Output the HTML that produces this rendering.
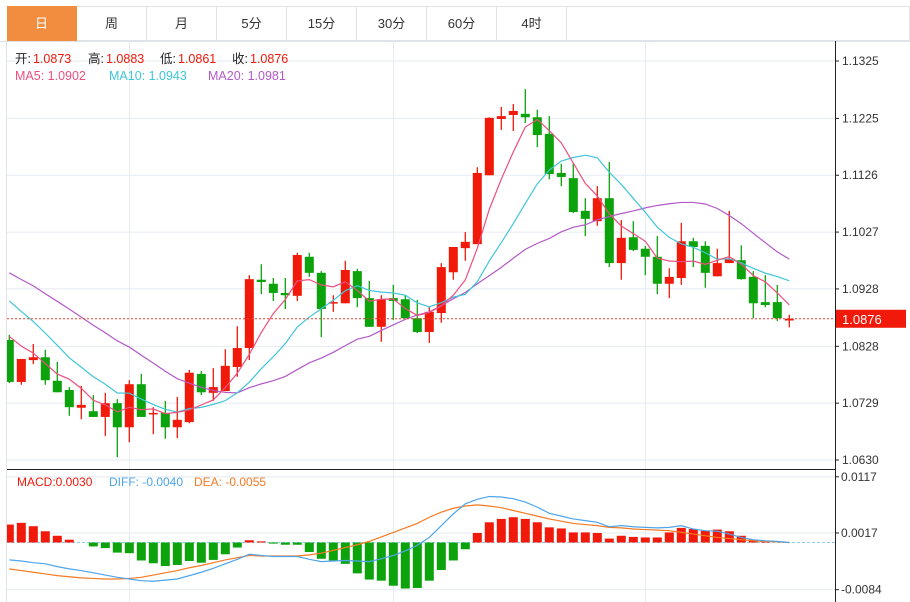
<!DOCTYPE html>
<html><head><meta charset="utf-8">
<style>
body{margin:0;background:#fff;font-family:"Liberation Sans","Noto Sans CJK SC",sans-serif;}
#wrap{position:relative;width:910px;height:602px;overflow:hidden;background:#fff;}
.tab{position:absolute;top:6px;height:35px;width:70px;border:1px solid #dfe3e8;border-left:none;box-sizing:border-box;text-align:center;line-height:34px;font-size:13px;color:#333;}
svg{position:absolute;left:0;top:0;}
</style></head><body>
<div id="wrap">
<div class="tab" style="left:7px;background:#f28c3f;color:#fff;border-color:#f28c3f">日</div>
<div class="tab" style="left:77px">周</div>
<div class="tab" style="left:147px">月</div>
<div class="tab" style="left:217px">5分</div>
<div class="tab" style="left:287px">15分</div>
<div class="tab" style="left:357px">30分</div>
<div class="tab" style="left:427px">60分</div>
<div class="tab" style="left:497px">4时</div>
<div class="tab" style="left:567px;width:343px"></div>
<svg id="chart" width="910" height="602"></svg>
</div>
<script>
const opens=[1.0839,1.0766,1.0804,1.0809,1.0768,1.0752,1.0721,1.0715,1.0705,1.0729,1.0687,1.0762,1.0710,1.0712,1.0687,1.0696,1.0780,1.0747,1.0750,1.0792,1.0825,1.0944,1.0937,1.0921,1.0916,1.0984,1.0956,1.0903,1.0903,1.0959,1.0912,1.0862,1.0912,1.0910,1.0877,1.0853,1.0886,1.0957,1.0999,1.1006,1.1126,1.1224,1.1231,1.1233,1.1227,1.1198,1.1130,1.1121,1.1064,1.1046,1.1086,1.0973,1.1018,1.0998,1.0984,1.0937,1.0947,1.1011,1.1003,1.0950,1.0973,1.0978,1.0949,1.0905,1.0905,1.0873];
const highs=[1.0848,1.0806,1.0832,1.0822,1.0801,1.0757,1.0759,1.0743,1.0747,1.0736,1.0769,1.0780,1.0722,1.0733,1.0740,1.0787,1.0785,1.0790,1.0823,1.0863,1.0952,1.0971,1.0947,1.0947,1.0991,1.0991,1.0959,1.0917,1.0977,1.0963,1.0942,1.0917,1.0935,1.0917,1.0909,1.0896,1.0973,1.1001,1.1027,1.1140,1.1227,1.1245,1.1250,1.1276,1.1240,1.1229,1.1146,1.1147,1.1086,1.1107,1.1149,1.1048,1.1046,1.1003,1.1020,1.0964,1.1043,1.1017,1.1011,1.0998,1.1064,1.1004,1.0959,1.0952,1.0935,1.0883];
const lows=[1.0764,1.0761,1.0797,1.0761,1.0748,1.0707,1.0701,1.0705,1.0672,1.0635,1.0661,1.0705,1.0675,1.0667,1.0668,1.0694,1.0743,1.0733,1.0750,1.0775,1.0804,1.0919,1.0907,1.0893,1.0907,1.0949,1.0844,1.0888,1.0903,1.0896,1.0862,1.0836,1.0874,1.0877,1.0851,1.0834,1.0869,1.0944,1.0977,1.1006,1.1126,1.1205,1.1203,1.1217,1.1175,1.1119,1.1107,1.1060,1.1020,1.1038,1.0966,1.0944,1.0994,1.0952,1.0919,1.0912,1.0935,1.0966,1.0930,1.0950,1.0973,1.0944,1.0877,1.0896,1.0872,1.0861];
const closes=[1.0766,1.0806,1.0809,1.0769,1.0748,1.0722,1.0726,1.0705,1.0729,1.0687,1.0762,1.0705,1.0712,1.0687,1.0700,1.0782,1.0748,1.0757,1.0794,1.0825,1.0945,1.0940,1.0921,1.0917,1.0987,1.0956,1.0893,1.0905,1.0961,1.0912,1.0862,1.0910,1.0907,1.0877,1.0853,1.0888,1.0966,1.1001,1.1010,1.1130,1.1226,1.1229,1.1238,1.1227,1.1196,1.1128,1.1123,1.1062,1.1050,1.1086,1.0973,1.1017,1.0996,1.0984,1.0937,1.0949,1.1011,1.1001,1.0956,1.0973,1.0980,1.0945,1.0903,1.0900,1.0877,1.0876];
const prevCloses=[1.1040,1.1030,1.1045,1.1010,1.0995,1.1005,1.0985,1.0990,1.0970,1.0980,1.0990,1.0985,1.0970,1.0960,1.0940,1.0890,1.0870,1.0860,1.0840];
const macdHist=[0.0032,0.0035,0.0029,0.0020,0.0012,0.0005,0.0000,-0.0007,-0.0010,-0.0018,-0.0019,-0.0032,-0.0037,-0.0042,-0.0040,-0.0033,-0.0036,-0.0031,-0.0021,-0.0009,0.0004,0.0002,-0.0002,-0.0004,-0.0004,-0.0017,-0.0029,-0.0032,-0.0038,-0.0055,-0.0066,-0.0068,-0.0077,-0.0082,-0.0081,-0.0068,-0.0049,-0.0032,-0.0012,0.0017,0.0036,0.0042,0.0045,0.0042,0.0036,0.0027,0.0025,0.0018,0.0018,0.0017,0.0007,0.0012,0.0010,0.0009,0.0009,0.0018,0.0026,0.0024,0.0021,0.0023,0.0020,0.0012,0.0005,0.0003,0.0000,0.0000];
const diffVals=[-0.0031,-0.0033,-0.0036,-0.0038,-0.0043,-0.0047,-0.0050,-0.0054,-0.0058,-0.0062,-0.0065,-0.0068,-0.0069,-0.0067,-0.0065,-0.0059,-0.0053,-0.0046,-0.0038,-0.0030,-0.0021,-0.0023,-0.0025,-0.0025,-0.0025,-0.0030,-0.0034,-0.0033,-0.0032,-0.0033,-0.0034,-0.0029,-0.0023,-0.0015,-0.0005,0.0009,0.0030,0.0051,0.0069,0.0077,0.0082,0.0081,0.0078,0.0072,0.0063,0.0052,0.0047,0.0042,0.0039,0.0036,0.0028,0.0030,0.0028,0.0027,0.0026,0.0027,0.0030,0.0024,0.0021,0.0020,0.0015,0.0009,0.0005,0.0003,0.0002,0.0000];
const deaVals=[-0.0047,-0.0050,-0.0053,-0.0056,-0.0059,-0.0061,-0.0063,-0.0064,-0.0065,-0.0065,-0.0064,-0.0062,-0.0058,-0.0054,-0.0050,-0.0045,-0.0041,-0.0036,-0.0031,-0.0027,-0.0023,-0.0024,-0.0024,-0.0024,-0.0024,-0.0022,-0.0019,-0.0014,-0.0009,-0.0004,0.0002,0.0010,0.0018,0.0026,0.0034,0.0045,0.0054,0.0061,0.0065,0.0067,0.0065,0.0062,0.0057,0.0052,0.0047,0.0042,0.0038,0.0034,0.0032,0.0030,0.0027,0.0026,0.0024,0.0023,0.0022,0.0021,0.0018,0.0015,0.0012,0.0009,0.0007,0.0005,0.0003,0.0002,0.0001,0.0000];
const priceTicks=[1.1325,1.1225,1.1126,1.1027,1.0928,1.0828,1.0729,1.0630];
const priceTickLabels=["1.1325","1.1225","1.1126","1.1027","1.0928","1.0828","1.0729","1.0630"];
const macdTicks=[0.0117,0.0017,-0.0084];
const macdTickLabels=["0.0117","0.0017","-0.0084"];
const lastPrice=1.0876;

const NS="http://www.w3.org/2000/svg";
const svg=document.getElementById('chart');
const RED="#f0190a",GREEN="#0ca20c";
const L=7,R=835;
function yP(p){return 61+(1.1325-p)*5741;}
function yM(v){return 542.5-v*5614;}
function xC(i){return 9.3+12*i;}
function mk(tag,attrs,parent){const e=document.createElementNS(NS,tag);for(const k in attrs)e.setAttribute(k,attrs[k]);(parent||svg).appendChild(e);return e;}

const defs=mk('defs',{});
const cp=mk('clipPath',{id:'plotclip'},defs);mk('rect',{x:L,y:41,width:R-L,height:428},cp);
const cp2=mk('clipPath',{id:'macdclip'},defs);mk('rect',{x:L,y:470,width:R-L,height:132},cp2);

// frame & grid
const grid=mk('g',{});


mk('line',{x1:0,y1:41.5,x2:910,y2:41.5,stroke:'#dfe3e8'},grid);
mk('line',{x1:L-0.5,y1:41,x2:L-0.5,y2:602,stroke:'#dfe3e8'},grid);
priceTicks.forEach(t=>{mk('line',{x1:L,x2:R,y1:yP(t),y2:yP(t),stroke:'#e4ebf2'},grid);});
macdTicks.forEach(t=>{mk('line',{x1:L,x2:R,y1:yM(t),y2:yM(t),stroke:'#e4ebf2'},grid);});
[129.5,393.5,645.5].forEach(x=>{mk('line',{x1:x,x2:x,y1:41,y2:602,stroke:'#e4ebf2'},grid);});
mk('line',{x1:L,x2:R,y1:469.5,y2:469.5,stroke:'#222'},grid);
mk('line',{x1:R+0.5,x2:R+0.5,y1:41,y2:602,stroke:'#222'},grid);

// price axis
priceTicks.forEach((t,i)=>{
  mk('line',{x1:R,x2:R+4,y1:yP(t),y2:yP(t),stroke:'#222'});
  const tx=mk('text',{x:842,y:yP(t)+4,'font-size':12,fill:'#333'});
  tx.textContent=priceTickLabels[i];
  
  
});
macdTicks.forEach((t,i)=>{
  mk('line',{x1:R,x2:R+4,y1:yM(t),y2:yM(t),stroke:'#222'});
  const tx=mk('text',{x:841,y:yM(t)+4,'font-size':12,fill:'#333'});
  tx.textContent=macdTickLabels[i];
  
  
});

// MA lines
const allC=prevCloses.concat(closes);
function ma(n){return closes.map((c,i)=>{const j=i+prevCloses.length;let s=0;for(let k=j-n+1;k<=j;k++)s+=allC[k];return s/n;});}
const plot=mk('g',{'clip-path':'url(#plotclip)'});
function line(vals,yf,color,name,parent){
  const p=mk('polyline',{points:vals.map((v,i)=>xC(i)+','+yf(v)).join(' '),fill:'none',stroke:color,'stroke-width':1.2},parent);
  
  
}
// candles
closes.forEach((c,i)=>{
  const o=opens[i],up=c>=o,col=up?RED:GREEN,x=xC(i);
  const g=mk('g',{},plot);
  
  
  mk('line',{x1:x,x2:x,y1:yP(highs[i]),y2:yP(lows[i]),stroke:col,'stroke-width':1.3},g);
  const t=yP(Math.max(o,c)),b=yP(Math.min(o,c));
  mk('rect',{x:x-4.5,y:t,width:9,height:Math.max(b-t,1.5),fill:col},g);
});
line(ma(20),yP,'#b25ac8','ma20-line',plot);
line(ma(10),yP,'#3fc6d9','ma10-line',plot);
line(ma(5),yP,'#ec4f7d','ma5-line',plot);
const ll=mk('line',{x1:L,x2:R,y1:yP(lastPrice),y2:yP(lastPrice),stroke:'#f03c2c','stroke-dasharray':'2,2'});


const tag=mk('g',{});


mk('rect',{x:R+1,y:yP(lastPrice)-9,width:70,height:18,fill:RED},tag);
const tt=mk('text',{x:842,y:yP(lastPrice)+5,'font-size':13,fill:'#fff'},tag);tt.textContent=lastPrice.toFixed(4);

// MACD
const mg=mk('g',{'clip-path':'url(#macdclip)'});
mk('line',{x1:L,x2:R,y1:yM(0),y2:yM(0),stroke:'#8fd0ef','stroke-dasharray':'3,2'},mg);
macdHist.forEach((v,i)=>{
  if(v===0)return;
  const x=xC(i),y0=yM(0),y1=yM(v);
  const r=mk('rect',{x:x-4.5,y:Math.min(y0,y1),width:9,height:Math.abs(y1-y0),fill:v>0?RED:GREEN},mg);
  
  
});
line(deaVals,yM,'#f57a22','dea-line',mg);
line(diffVals,yM,'#4ea5ea','diff-line',mg);

// legends
function txt(x,y,s,col,name,size){const t=mk('text',{x:x,y:y,'font-size':size||12.5,fill:col});t.textContent=s;return t;}
txt(15,63,'开:','#222','ohlc-open-label');txt(33,63,'1.0873',RED,'ohlc-open-value');
txt(88,63,'高:','#222','ohlc-high-label');txt(106,63,'1.0883',RED,'ohlc-high-value');
txt(160,63,'低:','#222','ohlc-low-label');txt(178,63,'1.0861',RED,'ohlc-low-value');
txt(232,63,'收:','#222','ohlc-close-label');txt(250,63,'1.0876',RED,'ohlc-close-value');
txt(15,80,'MA5: 1.0902','#ec4f7d','ma5-legend');
txt(109,80,'MA10: 1.0943','#3fc6d9','ma10-legend');
txt(208,80,'MA20: 1.0981','#b25ac8','ma20-legend');
txt(17,486,'MACD:0.0030',RED,'macd-legend',12);
txt(109,486,'DIFF: -0.0040','#4ea5ea','diff-legend',12);
txt(194,486,'DEA: -0.0055','#f57a22','dea-legend',12);
</script>
</body></html>
